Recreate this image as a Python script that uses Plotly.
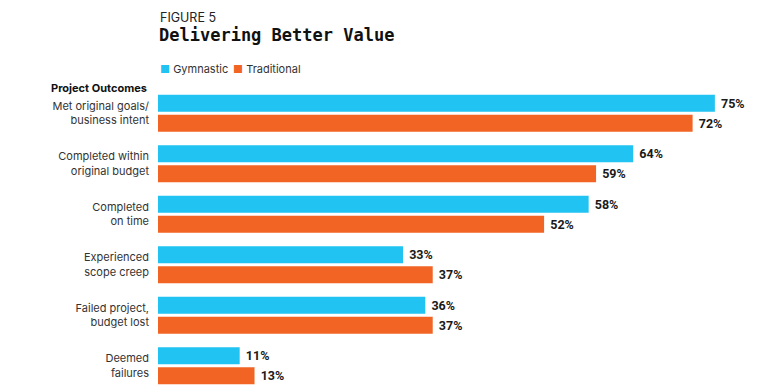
import plotly.graph_objects as go

categories = [
    "Met original goals/<br>business intent",
    "Completed within<br>original budget",
    "Completed<br>on time",
    "Experienced<br>scope creep",
    "Failed project,<br>budget lost",
    "Deemed<br>failures",
]
gymnastic = [75, 64, 58, 33, 36, 11]
traditional = [72, 59, 52, 37, 37, 13]
series_names = ["Gymnastic", "Traditional"]
colors = ["#20C3F1", "#F26424"]

# page body has an 8px margin, so the figure is drawn 8px in from the window edge
OFF = 8
FW, FH = 780 - OFF, 390 - OFF
L, T, W, H = 158 - OFF, 88 - OFF, 594, 300


def px_y(y):
    return 1 - (y - OFF - T) / H


def px_x(x):
    return (x - OFF - L) / W


fig = go.Figure()
for name, vals, col in zip(series_names, [gymnastic, traditional], colors):
    fig.add_trace(go.Bar(
        y=categories, x=vals, name=name, orientation="h",
        marker=dict(color=col, line=dict(width=0)),
        text=[f" {v}%" for v in vals], textposition="outside",
        textfont=dict(family="Roboto", size=12.5, color="#1a1a1a", weight="bold"),
        cliponaxis=False, showlegend=False,
    ))

fig.update_layout(
    width=FW, height=FH,
    margin=dict(l=L, r=FW - L - W, t=T, b=FH - T - H),
    paper_bgcolor="white", plot_bgcolor="white",
    barmode="group", bargap=0.206, bargroupgap=0.15,
    xaxis=dict(range=[0, 80], visible=False, fixedrange=True),
    yaxis=dict(range=[5.44, -0.5], showgrid=False, zeroline=False, showline=False,
               ticks="", ticklabelstandoff=8,
               tickfont=dict(family="Inter", size=11, color="#333333")),
    font=dict(family="Inter"),
)

ann = [
    dict(text="FIGURE 5", x=0, y=px_y(8.5), xanchor="left", yanchor="top",
         font=dict(family="Inter", size=12.5, color="#222222")),
    dict(text="<b>Delivering Better Value</b>", x=-0.002, y=px_y(34.5), xanchor="left", yanchor="middle",
         font=dict(family="DejaVu Sans Mono", size=17, color="#111111")),
    dict(text="<b>Project Outcomes</b>", x=px_x(149), y=px_y(88), xanchor="right", yanchor="middle",
         font=dict(family="Inter", size=11, color="#111111")),
    dict(text=f"<span style='color:{colors[0]}'>■</span> {series_names[0]}", x=0, y=px_y(69),
         xanchor="left", yanchor="middle", font=dict(family="Inter", size=11, color="#333333")),
    dict(text=f"<span style='color:{colors[1]}'>■</span> {series_names[1]}", x=px_x(231), y=px_y(69),
         xanchor="left", yanchor="middle", font=dict(family="Inter", size=11, color="#333333")),
]
for a in ann:
    a.update(xref="paper", yref="paper", showarrow=False)
    fig.add_annotation(**a)

fig.write_html("out.html")
